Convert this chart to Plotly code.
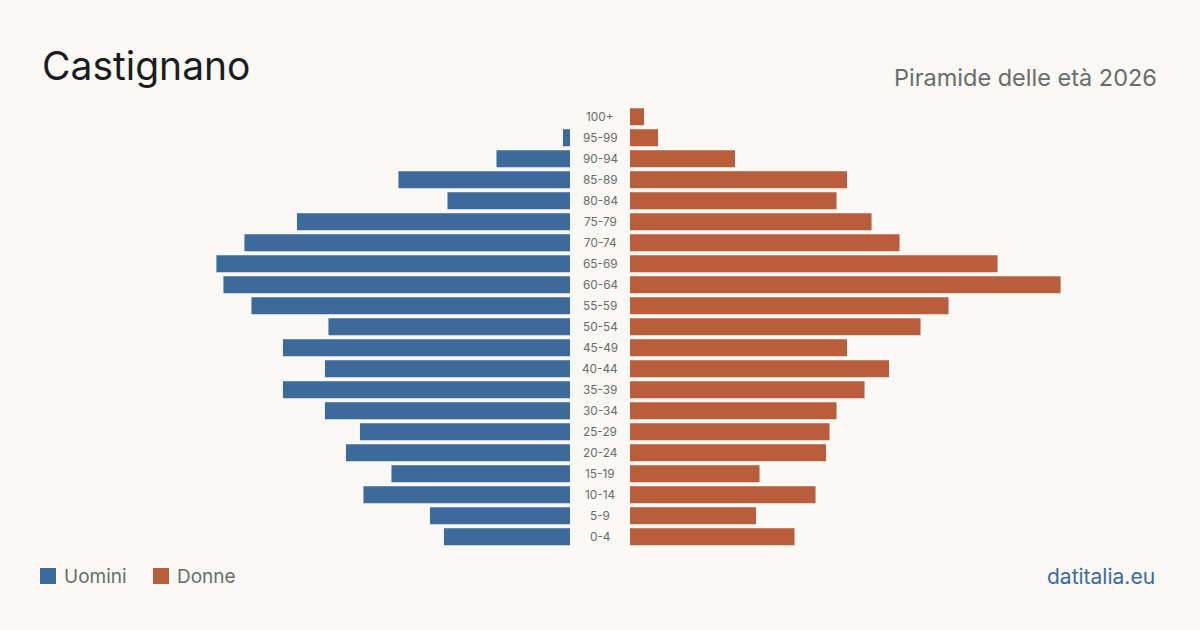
import plotly.graph_objects as go

ages = ["0-4", "5-9", "10-14", "15-19", "20-24", "25-29", "30-34", "35-39", "40-44",
        "45-49", "50-54", "55-59", "60-64", "65-69", "70-74", "75-79", "80-84",
        "85-89", "90-94", "95-99", "100+"]
men = [36, 40, 59, 51, 64, 60, 70, 82, 70, 82, 69, 91, 99, 101, 93, 78, 35, 49, 21, 2, 0]
women = [47, 36, 53, 37, 56, 57, 59, 67, 74, 62, 83, 91, 123, 105, 77, 69, 59, 62, 30, 8, 4]

title = "Castignano"
subtitle = "Piramide delle età 2026"
source = "datitalia.eu"
legend_labels = ["Uomini", "Donne"]

BLUE = "#3b6a9b"
ORANGE = "#b95e3d"
BG = "#f9f8f4"
FONT = "Inter"

W, H = 1200, 630
XMAX = 151.4
y_bot = (H - 547.2) / H
y_top = (H - 106.2) / H

fig = go.Figure()
fig.add_trace(go.Bar(y=ages, x=men, orientation="h", marker=dict(color=BLUE, line_width=0),
                     xaxis="x", yaxis="y", name=legend_labels[0], showlegend=False))
fig.add_trace(go.Bar(y=ages, x=women, orientation="h", marker=dict(color=ORANGE, line_width=0),
                     xaxis="x2", yaxis="y", name=legend_labels[1], showlegend=False))

for a in ages:
    fig.add_annotation(x=0.5, xref="paper", y=a, yref="y", text=a, showarrow=False,
                       font=dict(family=FONT, size=11.8, color="#6b6b6b"),
                       xanchor="center", yanchor="middle")

fig.add_annotation(x=40 / W, y=1 - 66 / H, xref="paper", yref="paper", text=title,
                   showarrow=False, xanchor="left", yanchor="middle",
                   font=dict(family=FONT, size=39, color="#1c1c1c"))
fig.add_annotation(x=1159 / W, y=1 - 77 / H, xref="paper", yref="paper", text=subtitle,
                   showarrow=False, xanchor="right", yanchor="middle",
                   font=dict(family=FONT, size=23.5, color="#6b6b6b"))
fig.add_annotation(x=1157 / W, y=1 - 576 / H, xref="paper", yref="paper", text=source,
                   showarrow=False, xanchor="right", yanchor="middle",
                   font=dict(family=FONT, size=21, color=BLUE))

# legend
for i, (lab, col) in enumerate(zip(legend_labels, [BLUE, ORANGE])):
    x0 = [40, 153][i]
    fig.add_shape(type="rect", xref="paper", yref="paper",
                  x0=x0 / W, x1=(x0 + 16) / W, y0=1 - 584 / H, y1=1 - 568 / H,
                  fillcolor=col, line_width=0)
    fig.add_annotation(x=(x0 + 22) / W, y=1 - 576 / H, xref="paper", yref="paper",
                       text=lab, showarrow=False, xanchor="left", yanchor="middle",
                       font=dict(family=FONT, size=19, color="#6b6b6b"))

fig.update_layout(
    width=W, height=H,
    margin=dict(l=0, r=0, t=0, b=0),
    paper_bgcolor=BG, plot_bgcolor=BG,
    bargap=1 - 17 / 21,
    xaxis=dict(domain=[40 / W, 570 / W], range=[XMAX, 0], visible=False, fixedrange=True),
    xaxis2=dict(domain=[630 / W, 1160 / W], range=[0, XMAX], visible=False, fixedrange=True),
    yaxis=dict(domain=[y_bot, y_top], visible=False, type="category",
               categoryorder="array", categoryarray=ages, range=[-0.5, len(ages) - 0.5]),
    showlegend=False,
)

fig.write_html("out.html")
